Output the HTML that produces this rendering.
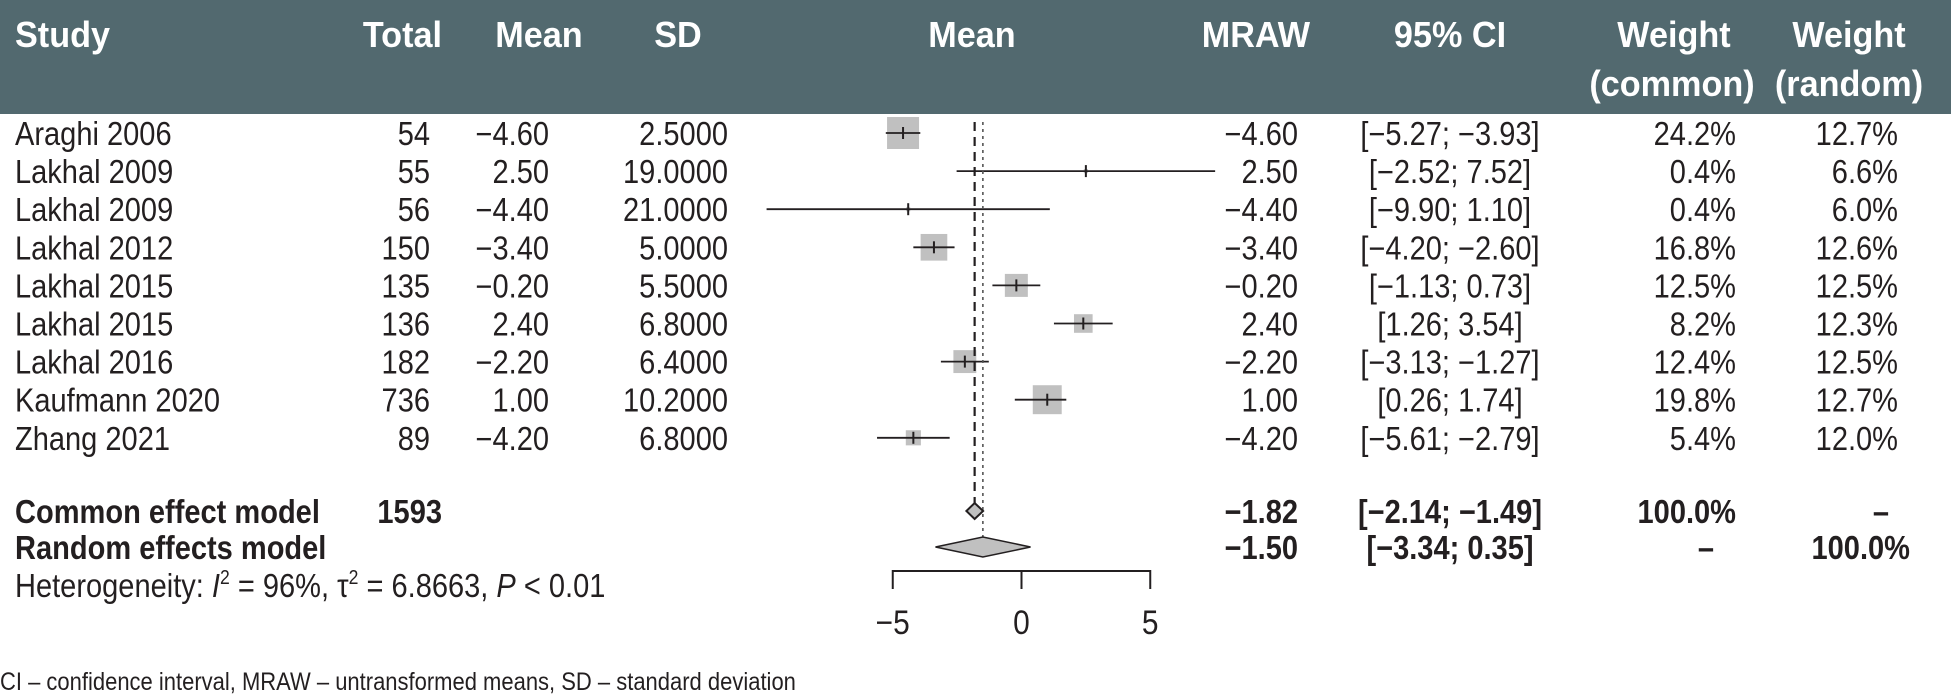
<!DOCTYPE html>
<html><head><meta charset="utf-8">
<style>
html,body{margin:0;padding:0;background:#fff;}
svg{display:block;font-family:"Liberation Sans Narrow","Liberation Sans",sans-serif;}
</style></head>
<body>
<svg id="chart" width="1951" height="694" viewBox="0 0 1951 694" xmlns="http://www.w3.org/2000/svg">
<rect x="0" y="0" width="1951" height="114" fill="#52696f"/>
<g id="hdr" fill="#fff" font-weight="bold" font-size="36">
<text x="15" y="47">Study</text>
<text x="442" y="47" text-anchor="end">Total</text>
<text x="539" y="47" text-anchor="middle">Mean</text>
<text x="678" y="47" text-anchor="middle">SD</text>
<text x="972" y="47" text-anchor="middle">Mean</text>
<text x="1310" y="47" text-anchor="end">MRAW</text>
<text x="1450" y="47" text-anchor="middle">95% CI</text>
<text x="1674" y="47" text-anchor="middle">Weight</text>
<text x="1672" y="96" text-anchor="middle">(common)</text>
<text x="1849" y="47" text-anchor="middle">Weight</text>
<text x="1849" y="96" text-anchor="middle">(random)</text>
</g>
<g id="rows" font-size="33" fill="#231f20"></g>
<g id="plot"></g>
<text x="15" y="597" font-size="33" fill="#231f20">Heterogeneity: <tspan font-style="italic">I</tspan><tspan font-size="20" dy="-13">2</tspan><tspan dy="13"> = 96%, τ</tspan><tspan font-size="20" dy="-13">2</tspan><tspan dy="13"> = 6.8663, </tspan><tspan font-style="italic">P</tspan> &lt; 0.01</text>
<text x="0" y="690" font-size="25" fill="#231f20">CI – confidence interval, MRAW – untransformed means, SD – standard deviation</text>
</svg>
<script>
const studies = ["Araghi 2006","Lakhal 2009","Lakhal 2009","Lakhal 2012","Lakhal 2015","Lakhal 2015","Lakhal 2016","Kaufmann 2020","Zhang 2021"];
const totals = [54,55,56,150,135,136,182,736,89];
const means = [-4.60,2.50,-4.40,-3.40,-0.20,2.40,-2.20,1.00,-4.20];
const sds = [2.5,19,21,5,5.5,6.8,6.4,10.2,6.8];
const lower = [-5.27,-2.52,-9.90,-4.20,-1.13,1.26,-3.13,-0.26,-5.61];
const upper = [-3.93,7.52,1.10,-2.60,0.73,3.54,-1.27,1.74,-2.79];
const ciLabels = ["[−5.27; −3.93]","[−2.52; 7.52]","[−9.90; 1.10]","[−4.20; −2.60]","[−1.13; 0.73]","[1.26; 3.54]","[−3.13; −1.27]","[0.26; 1.74]","[−5.61; −2.79]"];
const weightCommon = [24.2,0.4,0.4,16.8,12.5,8.2,12.4,19.8,5.4];
const weightRandom = [12.7,6.6,6.0,12.6,12.5,12.3,12.5,12.7,12.0];
const commonEffect = [-1.82,-2.14,-1.49];
const randomEffect = [-1.50,-3.34,0.35];
const xTicks = [-5,0,5];

const NS="http://www.w3.org/2000/svg";
const svg=document.getElementById('chart');
const rowsG=document.getElementById('rows');
const plotG=document.getElementById('plot');
const x0=1021.5, ppu=25.75;
const xs=v=>x0+v*ppu;
const rowY=i=>133+i*38.1;
const fmt=v=>(v<0?"−":"")+Math.abs(v).toFixed(2);
function mk(tag,attrs,parent,text){const e=document.createElementNS(NS,tag);for(const k in attrs)e.setAttribute(k,attrs[k]);if(text!==undefined)e.textContent=text;parent.appendChild(e);return e;}
function txt(x,y,s,anchor,parent,bold){const t=mk('text',{x:x,y:y+12,'text-anchor':anchor||'start'},parent,s);if(bold)t.setAttribute('font-weight','bold');return t;}

studies.forEach((s,i)=>{
  const y=rowY(i);
  const g=mk('g',{},rowsG);
  
  
  txt(15,y,s,'start',g);
  txt(430,y,String(totals[i]),'end',g);
  txt(549,y,fmt(means[i]),'end',g);
  txt(728,y,sds[i].toFixed(4),'end',g);
  txt(1298,y,fmt(means[i]),'end',g);
  txt(1450,y,ciLabels[i],'middle',g);
  txt(1736,y,weightCommon[i].toFixed(1)+"%",'end',g);
  txt(1898,y,weightRandom[i].toFixed(1)+"%",'end',g);
  const sz=32*Math.sqrt(weightCommon[i]/24.2);
  const sq=mk('rect',{x:xs(means[i])-sz/2,y:y-sz/2,width:sz,height:sz,fill:'#c0c0c0'},plotG);
  
  
  const ci=mk('line',{x1:xs(lower[i]),x2:xs(upper[i]),y1:y,y2:y,stroke:'#231f20','stroke-width':1.8},plotG);
  
  
  const tk=mk('line',{x1:xs(means[i]),x2:xs(means[i]),y1:y-6,y2:y+6,stroke:'#231f20','stroke-width':2},plotG);
  
  
});

const yC=511,yR=547;
const cg=mk('g',{},rowsG);


txt(15,yC,"Common effect model",'start',cg,true);
txt(442,yC,"1593",'end',cg,true);
txt(1298,yC,fmt(commonEffect[0]),'end',cg,true);
txt(1450,yC,"[−2.14; −1.49]",'middle',cg,true);
txt(1736,yC,"100.0%",'end',cg,true);
txt(1881,yC,"–",'middle',cg,true);
const rg=mk('g',{},rowsG);


txt(15,yR,"Random effects model",'start',rg,true);
txt(1298,yR,fmt(randomEffect[0]),'end',rg,true);
txt(1450,yR,"[−3.34; 0.35]",'middle',rg,true);
txt(1706,yR,"–",'middle',rg,true);
txt(1910,yR,"100.0%",'end',rg,true);

const dl=mk('line',{x1:xs(commonEffect[0]),x2:xs(commonEffect[0]),y1:122,y2:yC-8,stroke:'#231f20','stroke-width':2.2,'stroke-dasharray':'9,6'},plotG);


const dt=mk('line',{x1:xs(randomEffect[0]),x2:xs(randomEffect[0]),y1:122,y2:yR-10,stroke:'#555','stroke-width':1.6,'stroke-dasharray':'3,4'},plotG);



const dc=mk('polygon',{points:`${xs(commonEffect[1])},${yC} ${xs(commonEffect[0])},${yC-8} ${xs(commonEffect[2])},${yC} ${xs(commonEffect[0])},${yC+8}`,fill:'#c0c0c0',stroke:'#231f20','stroke-width':2},plotG);


const dr=mk('polygon',{points:`${xs(randomEffect[1])},${yR} ${xs(randomEffect[0])},${yR-10} ${xs(randomEffect[2])},${yR} ${xs(randomEffect[0])},${yR+10}`,fill:'#c0c0c0',stroke:'#231f20','stroke-width':1.5},plotG);



const ax=mk('line',{x1:xs(xTicks[0]),x2:xs(xTicks[xTicks.length-1]),y1:571,y2:571,stroke:'#231f20','stroke-width':2},plotG);


xTicks.forEach(t=>{
  const l=mk('line',{x1:xs(t),x2:xs(t),y1:570,y2:589,stroke:'#231f20','stroke-width':2},plotG);
  
  
  const tl=mk('text',{x:xs(t),y:634,'text-anchor':'middle','font-size':34,fill:'#231f20'},plotG,(t<0?"−":"")+Math.abs(t));
  
  
});

// condense text horizontally around its anchor x
document.querySelectorAll('#chart text').forEach(t=>{
  const SX = t.closest('#hdr') ? 0.95 : 0.88;
  const x=parseFloat(t.getAttribute('x'));
  t.setAttribute('transform',`translate(${x*(1-SX)},0) scale(${SX},1)`);
});
</script>
</body></html>
